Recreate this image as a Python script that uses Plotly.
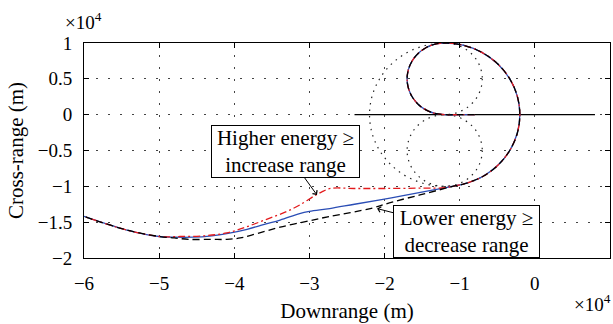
import plotly.graph_objects as go

# ---- data (units of 1e4 m) ----
loop_x = [-0.8, -1.0, -1.2, -1.329, -1.45, -1.554, -1.633, -1.683, -1.7, -1.683, -1.633, -1.554,
          -1.45, -1.329, -1.2, -0.941, -0.7, -0.493, -0.334, -0.234, -0.2, -0.234, -0.334,
          -0.493, -0.7, -0.941, -1.05]
loop_y = [0.0, 0.0, 0.0, 0.017, 0.067, 0.146, 0.25, 0.371, 0.5, 0.629, 0.75, 0.854,
          0.933, 0.983, 1.0, 0.966, 0.866, 0.707, 0.5, 0.259, 0.0, -0.259, -0.5,
          -0.707, -0.866, -0.966, -0.99]

tail_x = [-5.0, -5.43, -6.0]
tail_y = [-1.70, -1.61, -1.42]

blue_x = [-1.2, -1.4, -1.7, -2.06, -2.4, -2.73, -3.0, -3.13, -3.39, -3.6, -3.83, -4.1, -4.3, -4.55, -4.8]
blue_y = [-1.02, -1.06, -1.12, -1.19, -1.25, -1.31, -1.35, -1.38, -1.47, -1.53, -1.60, -1.66, -1.69, -1.71, -1.71]

red_x = [-1.2, -1.5, -2.0, -2.4, -2.72, -2.84, -2.93, -3.13, -3.3, -3.57, -3.85, -4.1, -4.4, -4.72]
red_y = [-1.02, -1.025, -1.03, -1.03, -1.03, -1.08, -1.13, -1.26, -1.35, -1.46, -1.57, -1.65, -1.69, -1.70]

black_x = [-1.2, -1.53, -1.9, -2.19, -2.73, -3.0, -3.39, -3.7, -3.92, -4.1, -4.3, -4.6, -4.8]
black_y = [-1.03, -1.12, -1.22, -1.31, -1.42, -1.48, -1.57, -1.66, -1.72, -1.74, -1.74, -1.74, -1.72]

ref_line_x = [-2.4, 0.8]
ref_line_y = [0.0, 0.0]

circle_cx = [-1.2, -1.2, -1.2]
circle_cy = [0.0, 0.5, -0.5]
circle_r = [1.0, 0.5, 0.5]

x_ticks = [-6, -5, -4, -3, -2, -1, 0, 1]
x_ticktext = ["\u22126", "\u22125", "\u22124", "\u22123", "\u22122", "\u22121", "0", "1"]
y_ticks = [-2, -1.5, -1, -0.5, 0, 0.5, 1]
y_ticktext = ["\u22122", "\u22121.5", "\u22121", "\u22120.5", "0", "0.5", "1"]

hi_tip = [-2.90, -1.12]
lo_tip = [-2.10, -1.31]

FONT = "Liberation Serif, Times New Roman, serif"

def series(mid_x, mid_y):
    return loop_x + mid_x + tail_x, loop_y + mid_y + tail_y

fig = go.Figure()

fig.add_trace(go.Scatter(x=ref_line_x, y=ref_line_y, mode="lines",
                         line=dict(color="black", width=1.3), showlegend=False))

bx, by = series(blue_x, blue_y)
fig.add_trace(go.Scatter(x=bx, y=by, mode="lines", line_shape="spline",
                         line=dict(color="#2a4db5", width=1.3), showlegend=False))
rx, ry = series(red_x, red_y)
fig.add_trace(go.Scatter(x=rx, y=ry, mode="lines", line_shape="spline",
                         line=dict(color="#e31a1c", width=1.3, dash="7px,3px,2px,3px"), showlegend=False))
kx, ky = series(black_x, black_y)
fig.add_trace(go.Scatter(x=kx, y=ky, mode="lines", line_shape="spline",
                         line=dict(color="black", width=1.3, dash="7px,4px"), showlegend=False))

shapes = []
for cx, cy, r in zip(circle_cx, circle_cy, circle_r):
    shapes.append(dict(type="circle", xref="x", yref="y", x0=cx - r, x1=cx + r, y0=cy - r, y1=cy + r,
                       line=dict(color="#222", width=1.2, dash="1.5px,5px"), layer="below"))

axis_common = dict(showline=True, linecolor="black", linewidth=1, mirror="ticks",
                   ticks="inside", ticklen=5, tickcolor="black", tickwidth=1,
                   showgrid=True, gridcolor="#444", gridwidth=1.2, griddash="1.5px,10.5px",
                   zeroline=False, tickfont=dict(family=FONT, size=19, color="black"))

fig.update_xaxes(range=[-6, 1], tickvals=x_ticks, ticktext=x_ticktext, ticklabelstandoff=8,
                 title=dict(text="Downrange (m)", font=dict(family=FONT, size=21, color="black"), standoff=10),
                 **axis_common)
fig.update_yaxes(range=[-2, 1], tickvals=y_ticks, ticktext=y_ticktext, ticklabelstandoff=7,
                 title=dict(text="Cross-range (m)", font=dict(family=FONT, size=21, color="black"), standoff=8),
                 **axis_common)

annotations = [
    dict(x=hi_tip[0], y=hi_tip[1], xref="x", yref="y", text="Higher energy \u2265<br>increase range",
         showarrow=True, ax=-31, ay=-43, arrowhead=4, arrowsize=1.1, arrowwidth=1, arrowcolor="black",
         font=dict(family=FONT, size=21, color="black"), bgcolor="white", bordercolor="black",
         borderwidth=1, borderpad=0, width=147, align="center"),
    dict(x=lo_tip[0], y=lo_tip[1], xref="x", yref="y", text="Lower energy \u2265<br>decrease range",
         showarrow=True, ax=89, ay=23, arrowhead=4, arrowsize=1.1, arrowwidth=1, arrowcolor="black",
         font=dict(family=FONT, size=21, color="black"), bgcolor="white", bordercolor="black",
         borderwidth=1, borderpad=0, width=145, align="center"),
    dict(x=-0.04, y=1.10, xref="paper", yref="paper", xanchor="left", yanchor="middle",
         text="\u00d710<sup>4</sup>", showarrow=False, font=dict(family=FONT, size=19, color="black")),
    dict(x=1.006, y=-0.21, xref="paper", yref="paper", xanchor="right", yanchor="middle",
         text="\u00d710<sup>4</sup>", showarrow=False, font=dict(family=FONT, size=19, color="black")),
]

fig.update_layout(width=613, height=324, margin=dict(l=84, r=3, t=43, b=66),
                  paper_bgcolor="white", plot_bgcolor="white", shapes=shapes,
                  annotations=annotations, showlegend=False)

fig.write_html("out.html")
